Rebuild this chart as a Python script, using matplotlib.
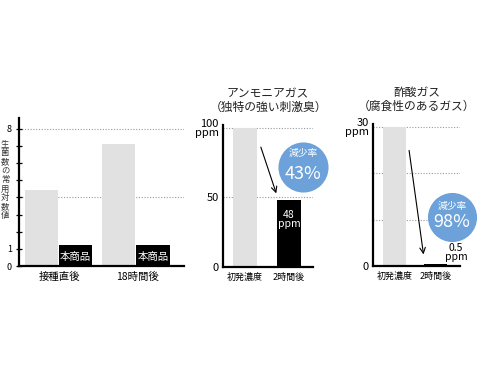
import matplotlib
matplotlib.use("Agg")
import matplotlib.pyplot as plt

plt.rcParams['font.family'] = ['Noto Sans CJK JP', 'DejaVu Sans']

# Panel 1 data
groups1 = ["接種直後", "18時間後"]
control1 = [4.45, 7.1]
product1 = [1.25, 1.25]
product_label = "本商品"
ylabel1 = "生菌数の常用対数値"

# Panel 2 data
cats = ["初発濃度", "2時間後"]
ammonia = [100, 48]
ammonia_rate = "43%"
# Panel 3 data
acetic = [30, 0.5]
acetic_rate = "98%"

W, H = 490, 368
fig = plt.figure(figsize=(W / 100, H / 100), dpi=100)

def add_ax(l, r, b, t):
    return fig.add_axes([l / W, (H - b) / H, (r - l) / W, (b - t) / H])

def style(ax):
    for s in ['top', 'right']:
        ax.spines[s].set_visible(False)
    for s in ['left', 'bottom']:
        ax.spines[s].set_linewidth(1.6)
    ax.tick_params(axis='x', length=0, labelsize=7, pad=4)

grid_kw = dict(color='#999999', linestyle=(0, (1, 1.5)), linewidth=0.8, zorder=0)
gray = '#e1e1e1'

# ---- Panel 1
ax1 = add_ax(19, 184, 266, 118)
style(ax1)
x = [0, 1]
off, w = 0.22, 0.43
ax1.bar([i - off for i in x], control1, width=w, color=gray, zorder=2)
ax1.bar([i + off for i in x], product1, width=w, color='black', zorder=2)
for i in x:
    ax1.text(i + off, product1[i] / 2 - 0.1, product_label, color='white',
             ha='center', va='center', fontsize=7.5, zorder=3)
for g in [4, 8]:
    ax1.axhline(g, **grid_kw)
ax1.set_xlim(-0.506, 1.62)
ax1.set_ylim(0, 8.64)
ax1.set_yticks(range(0, 9))
ax1.set_yticklabels(["0", "1", "", "", "", "", "", "", "8"])
ax1.tick_params(axis='y', direction='inout', length=4, width=0.9, labelsize=6.5, pad=3)
ax1.set_xticks([0.02, 1.02])
ax1.set_xticklabels(groups1, fontsize=7.5)
fig.text(5 / W, (H - 180) / H, "\n".join(ylabel1), fontsize=6, ha='center',
         va='center', linespacing=1.0, color='#333333')

# ---- Panel 2
ax2 = add_ax(223, 313, 267, 125)
style(ax2)
ax2.bar([0, 1], ammonia, width=0.55, color=[gray, 'black'], zorder=2)
for g in [50, 100]:
    ax2.axhline(g, **grid_kw)
ax2.set_xlim(-0.5, 1.545)
ax2.set_ylim(0, 102)
ax2.set_yticks([0, 50, 100])
ax2.set_yticklabels(["0", "50", "100\nppm"])
ax2.tick_params(axis='y', length=0, labelsize=8, pad=3)
for lab in ax2.get_yticklabels():
    lab.set_linespacing(0.85)
ax2.set_xticks([0, 1])
ax2.set_xticklabels(cats, fontsize=6.5)
ax2.text(1, 34, f"{ammonia[1]}\nppm", color='white', ha='center', va='center',
         fontsize=7.5, linespacing=0.9, zorder=3)
ax2.set_title("アンモニアガス\n（独特の強い刺激臭）", fontsize=8.5, pad=10, linespacing=1.1,
              color='#222222')
ax2.annotate("", xy=(0.73, 51), xytext=(0.34, 88),
             arrowprops=dict(arrowstyle='->', lw=0.8, color='black'), zorder=4)
ax2.scatter([1.318], [72], s=1300, color='#6ca2d9', zorder=5, clip_on=False, linewidths=0)
ax2.text(1.318, 82, "減少率", color='white', ha='center', va='center', fontsize=7, zorder=6)
ax2.text(1.318, 67, ammonia_rate, color='white', ha='center', va='center', fontsize=13, zorder=6)

# ---- Panel 3
ax3 = add_ax(373, 460, 266, 124)
style(ax3)
ax3.bar([0, 1], acetic, width=0.56, color=[gray, 'black'], zorder=2)
for g in [10, 20, 30]:
    ax3.axhline(g, **grid_kw)
ax3.set_xlim(-0.52, 1.6)
ax3.set_ylim(0, 30.6)
ax3.set_yticks([0, 30])
ax3.set_yticklabels(["0", "30\nppm"])
ax3.tick_params(axis='y', length=0, labelsize=8, pad=3)
for lab in ax3.get_yticklabels():
    lab.set_linespacing(0.85)
ax3.set_xticks([0, 1])
ax3.set_xticklabels(cats, fontsize=6.5)
ax3.text(1.5, 0.9, f"{acetic[1]}\nppm", color='black', ha='center', va='bottom',
         fontsize=7.5, linespacing=0.9, zorder=3, clip_on=False)
ax3.set_title("酢酸ガス\n（腐食性のあるガス）", fontsize=8.5, pad=10, linespacing=1.1,
              color='#222222')
ax3.annotate("", xy=(0.72, 1.9), xytext=(0.35, 25.5),
             arrowprops=dict(arrowstyle='->', lw=0.8, color='black'), zorder=4)
ax3.scatter([1.40], [10.6], s=1250, color='#6ca2d9', zorder=5, clip_on=False, linewidths=0)
ax3.text(1.40, 12.9, "減少率", color='white', ha='center', va='center', fontsize=7, zorder=6)
ax3.text(1.40, 9.5, acetic_rate, color='white', ha='center', va='center', fontsize=13, zorder=6)

fig.savefig("out.png", dpi=100)
